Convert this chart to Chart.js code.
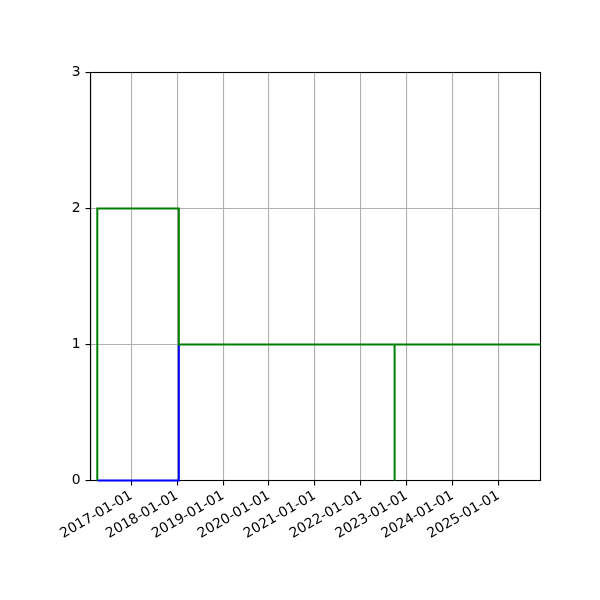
<!doctype html>
<html>
<head>
<meta charset="utf-8">
<title>Step chart</title>
<script src="https://cdn.jsdelivr.net/npm/chart.js@4.4.1/dist/chart.umd.min.js"></script>
<style>
  body { margin: 0; background: #fff; }
  #holder { width: 600px; height: 600px; }
</style>
</head>
<body>
<div id="holder"><canvas id="chart" width="600" height="600"></canvas></div>
<script>
// series data (dates)
var greenDates  = ['2016-04-05', '2016-04-05', '2018-01-14', '2025-12-31'];
var greenValues = [0, 2, 1, 1];
var green2Dates  = ['2022-09-27', '2022-09-27'];
var green2Values = [0, 1];
var blueDates  = ['2016-04-05', '2018-01-14'];
var blueValues = [0, 1];

var tickYears = [2017, 2018, 2019, 2020, 2021, 2022, 2023, 2024, 2025];
var yTicks = [0, 1, 2, 3];
var xRange = ['2016-02-11', '2025-12-01'];

var DAY = 86400000;
var toDay = function(s) { return Date.parse(s + 'T00:00:00Z') / DAY; };
var pad2 = function(n) { return (n < 10 ? '0' : '') + n; };
var fmtDay = function(d) {
    var t = new Date(Math.round(d) * DAY);
    return t.getUTCFullYear() + '-' + pad2(t.getUTCMonth() + 1) + '-' + pad2(t.getUTCDate());
};
var points = function(dates, values) {
    return dates.map(function(d, i) { return {x: toDay(d), y: values[i]}; });
};

// top/right spines (drawn under the lines so the blue shows on the bottom edge)
var frame = {
    id: 'frame',
    beforeDatasetsDraw: function(chart) {
        var a = chart.chartArea, c = chart.ctx;
        c.save();
        c.strokeStyle = '#000';
        c.lineWidth = 1.1;
        c.strokeRect(a.left, a.top, a.right - a.left, a.bottom - a.top);
        c.restore();
    }
};

// horizontal first, then vertical (like matplotlib steps-post)
var lineStyle = function(color) {
    return {
        borderColor: color,
        backgroundColor: color,
        borderWidth: 2,
        pointRadius: 0,
        fill: false,
        stepped: 'before',
        tension: 0,
        clip: {left: 0, top: 0, right: 0, bottom: 2}
    };
};

Chart.defaults.font.family = "'DejaVu Sans', sans-serif";
Chart.defaults.font.size = 13.9;
Chart.defaults.color = '#000';

var config = {
    type: 'line',
    data: {
        datasets: [
            Object.assign({label: 'green', data: points(greenDates, greenValues)}, lineStyle('#008000')),
            Object.assign({label: 'green 2', data: points(green2Dates, green2Values)}, lineStyle('#008000')),
            Object.assign({label: 'blue', data: points(blueDates, blueValues)}, lineStyle('#0000ff'))
        ]
    },
    options: {
        responsive: false,
        animation: false,
        devicePixelRatio: 1,
        layout: { padding: { left: 0, top: 72.5, right: 59.5, bottom: 0 } },
        plugins: { legend: { display: false }, tooltip: { enabled: false } },
        scales: {
            x: {
                type: 'linear',
                min: toDay(xRange[0]),
                max: toDay(xRange[1]),
                afterBuildTicks: function(scale) {
                    scale.ticks = tickYears.map(function(y) { return {value: toDay(y + '-01-01')}; });
                },
                afterFit: function(scale) { scale.height = 119.5; },
                ticks: {
                    autoSkip: false,
                    minRotation: 30,
                    maxRotation: 30,
                    padding: 2,
                    callback: function(v) { return fmtDay(v); }
                },
                grid: { color: '#b0b0b0', lineWidth: 1.1, tickColor: '#000', tickLength: 5, tickWidth: 1.1 },
                border: { color: '#000', width: 1.1 }
            },
            y: {
                min: 0,
                max: 3,
                afterBuildTicks: function(scale) {
                    scale.ticks = yTicks.map(function(v) { return {value: v}; });
                },
                afterFit: function(scale) { scale.width = 90.5; },
                ticks: { padding: 5 },
                grid: { color: '#b0b0b0', lineWidth: 1.1, tickColor: '#000', tickLength: 5, tickWidth: 1.1 },
                border: { color: '#000', width: 1.1 }
            }
        }
    },
    plugins: [frame]
};

window.onload = function() {
    var ctx = document.getElementById('chart').getContext('2d');
    window.myChart = new Chart(ctx, config);
};
</script>
</body>
</html>
